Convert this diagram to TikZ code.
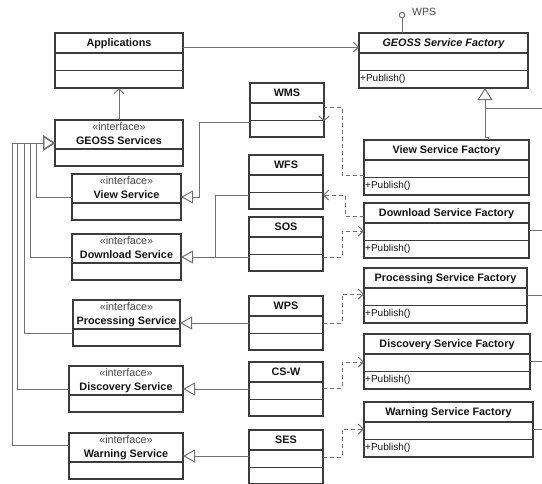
\documentclass[tikz,border=0pt]{standalone}
\usepackage{fontspec}
\setmainfont{Liberation Sans}
\definecolor{umlframe}{RGB}{60,60,60}
\definecolor{umlline}{RGB}{112,112,112}
\definecolor{umltext}{RGB}{20,20,20}
\definecolor{umlgray}{RGB}{70,70,70}
\usetikzlibrary{arrows.meta,positioning,calc}

\begin{document}
\begin{tikzpicture}[x=1pt, y=-1pt,
    classbox/.style={rectangle, draw=umlframe, line width=1.2pt, fill=white,
                     anchor=north west, inner sep=0pt, outer sep=0pt,
                     minimum width=#1, minimum height=55pt},
    ifacebox/.style={classbox=#1, minimum height=46pt},
    svcbox/.style={classbox=74, minimum height=54pt},
    head/.style={font=\fontsize{10.8}{12}\selectfont\bfseries, text=umltext,
                 inner sep=0pt, text depth=0pt, label distance=-14pt},
    stereo/.style={font=\fontsize{10.8}{12}\selectfont, text=umlgray,
                   inner sep=0pt, text depth=0pt, label distance=-11pt},
    pub/.style={font=\fontsize{10}{11}\selectfont, text=umltext, inner sep=0pt,
                text depth=0pt, anchor=base west, label distance=-1pt, yshift=-21pt},
    conn/.style={draw=umlline, line width=1pt},
    assoc/.style={conn, -{Straight Barb[length=5pt, width=10pt]}},
    realize/.style={conn, -{Triangle[open, length=12pt, width=13pt]}},
    general/.style={conn, -{Triangle[open, length=12pt, width=15pt]}},
    depend/.style={conn, dash pattern=on 4pt off 3pt, -{Straight Barb[length=5pt, width=10pt]}},
    lolly/.style={circle, draw=umlline, line width=1pt, fill=white, minimum size=5.5pt, inner sep=0pt}
  ]
  \clip (0,0) rectangle (542,483);

  % client side
  \node[classbox=128, label={[head]north:Applications}] (apps) at (55,33) {};
  \node[ifacebox=128, label={[stereo]north:«interface»},
        label={[head, label distance=-24.5pt]north:GEOSS Services}] (gsvc) at (55,120) {};
  \node[ifacebox=109, label={[stereo]north:«interface»},
        label={[head, label distance=-24.5pt]north:View Service}] (view) at (72,174) {};
  \node[ifacebox=109, label={[stereo]north:«interface»},
        label={[head, label distance=-24.5pt]north:Download Service}] (dl) at (72,234) {};
  \node[ifacebox=107, label={[stereo]north:«interface»},
        label={[head, label distance=-24.5pt]north:Processing Service}] (proc) at (73,300) {};
  \node[ifacebox=114, label={[stereo]north:«interface»},
        label={[head, label distance=-24.5pt]north:Discovery Service}] (disc) at (69,366) {};
  \node[ifacebox=114, label={[stereo]north:«interface»},
        label={[head, label distance=-24.5pt]north:Warning Service}] (warn) at (69,433) {};

  % OGC services
  \node[svcbox, label={[head]north:WMS}]  (wms) at (250,83) {};
  \node[svcbox, label={[head]north:WFS}]  (wfs) at (249,155) {};
  \node[svcbox, label={[head]north:SOS}]  (sos) at (249,217) {};
  \node[svcbox, label={[head]north:WPS}]  (wps) at (249,296) {};
  \node[svcbox, label={[head]north:CS-W}] (csw) at (249,362) {};
  \node[svcbox, label={[head]north:SES}]  (ses) at (249,430) {};

  % factories
  \node[classbox=169, label={[head, font=\fontsize{10.8}{12}\selectfont\bfseries\itshape]north:GEOSS Service Factory},
        label={[pub]west:+Publish()}] (gsf) at (359,33) {};
  \node[classbox=165, label={[head]north:View Service Factory},
        label={[pub]west:+Publish()}] (vsf) at (364,140) {};
  \node[classbox=165, label={[head]north:Download Service Factory},
        label={[pub]west:+Publish()}] (dsf) at (364,203) {};
  \node[classbox=163, label={[head]north:Processing Service Factory},
        label={[pub]west:+Publish()}] (psf) at (364,268) {};
  \node[classbox=166, label={[head]north:Discovery Service Factory},
        label={[pub]west:+Publish()}] (csf) at (364,334) {};
  \node[classbox=169, label={[head]north:Warning Service Factory},
        label={[pub]west:+Publish()}] (wsf) at (364,402) {};

  % compartments
  \foreach \b in {apps,gsf,wms,wfs,sos,wps,csw,ses,vsf,dsf,psf,csf,wsf}
    \draw[umlframe, line width=1.2pt]
      ($(\b.north west)+(0,20)$) -- ($(\b.north east)+(0,20)$)
      ($(\b.north west)+(0,37.5)$) -- ($(\b.north east)+(0,37.5)$);
  \foreach \b in {gsvc,view,dl,proc,disc,warn}
    \draw[umlframe, line width=1.2pt]
      ($(\b.north west)+(0,29)$) -- ($(\b.north east)+(0,29)$);

  % provided interface
  \node[lolly] (wpsif) at (402,15) {};
  \draw[conn] (wpsif) -- (wpsif |- gsf.north);
  \node[font=\fontsize{10.5}{12}\selectfont, text=umlgray, anchor=base west, inner sep=0pt]
    (wpsname) at ($(wpsif)+(10,0)$) {WPS};

  % associations
  \draw[assoc] (gsvc.north) -- (apps.south);
  \draw[assoc] ($(apps.north east)+(0,14)$) -- ($(gsf.north west)+(0,14)$);

  % interface hierarchy
  \draw[general] (view.west) -| ($(gsvc.west)+(-19,0)$) -- (gsvc.west);
  \draw[general] (dl.west) -| ($(gsvc.west)+(-25,0)$) -- (gsvc.west);
  \draw[general] ($(proc.north west)+(0,33)$) -| ($(gsvc.west)+(-31,0)$) -- (gsvc.west);
  \draw[general] (disc.west) -| ($(gsvc.west)+(-37.5,0)$) -- (gsvc.west);
  \draw[general] ($(warn.north west)+(0,12)$) -| ($(gsvc.west)+(-42.5,0)$) -- (gsvc.west);

  % services realise the interfaces
  \draw[realize] ($(wms.north west)+(0,39)$) -| ($(view.east)+(18,0)$) -- (view.east);
  \draw[realize] ($(wfs.north west)+(0,40)$) -| ($(dl.east)+(34,0)$) -- (dl.east);
  \draw[conn] ($(sos.north west)+(0,40)$) -- ($(dl.east)+(34,0)$);
  \draw[realize] (wps.west |- proc.east) -- (proc.east);
  \draw[realize] (csw.west |- disc.east) -- (disc.east);
  \draw[realize] (ses.west |- warn.east) -- (warn.east);

  % factory dependencies
  \draw[depend, -] ($(vsf.north west)+(0,35)$) -| ($(wms.north east)+(18,24)$) -- ($(wms.north east)+(0,24)$);
  \draw[conn, -{Straight Barb[length=4pt, width=10pt]}] ($(wms.north east)+(0,34)$) -- ($(wms.north east)+(0,38)$);
  \draw[depend] ($(dsf.north west)+(0,13)$) -| ($(wfs.north east)+(22,40)$) -- ($(wfs.north east)+(0,40)$);
  \draw[depend] ($(sos.north east)+(0,40)$) -| ($(dsf.north west)+(-22,28)$) -- ($(dsf.north west)+(0,28)$);
  \draw[depend] ($(wps.north east)+(0,27)$) -| ($(psf.north west)+(-22,26)$) -- ($(psf.north west)+(0,26)$);
  \draw[depend] ($(csw.north east)+(0,26)$) -| ($(csf.north west)+(-22,28)$) -- ($(csf.north west)+(0,28)$);
  \draw[depend] ($(ses.north east)+(0,27)$) -| ($(wsf.north west)+(-22,27)$) -- ($(wsf.north west)+(0,27)$);

  % factory hierarchy
  \draw[general] ($(vsf.north west)+(124,0)$) -- ++(0,-3) -| ($(gsf.south west)+(126,0)$);
  \draw[conn] ($(gsf.south west)+(126,20)$) -- ++(70,0);
  \foreach \f in {dsf,psf,csf,wsf}
    \draw[conn] ($(\f.north east)+(0,27)$) -- ++(30,0);
\end{tikzpicture}
\end{document}
